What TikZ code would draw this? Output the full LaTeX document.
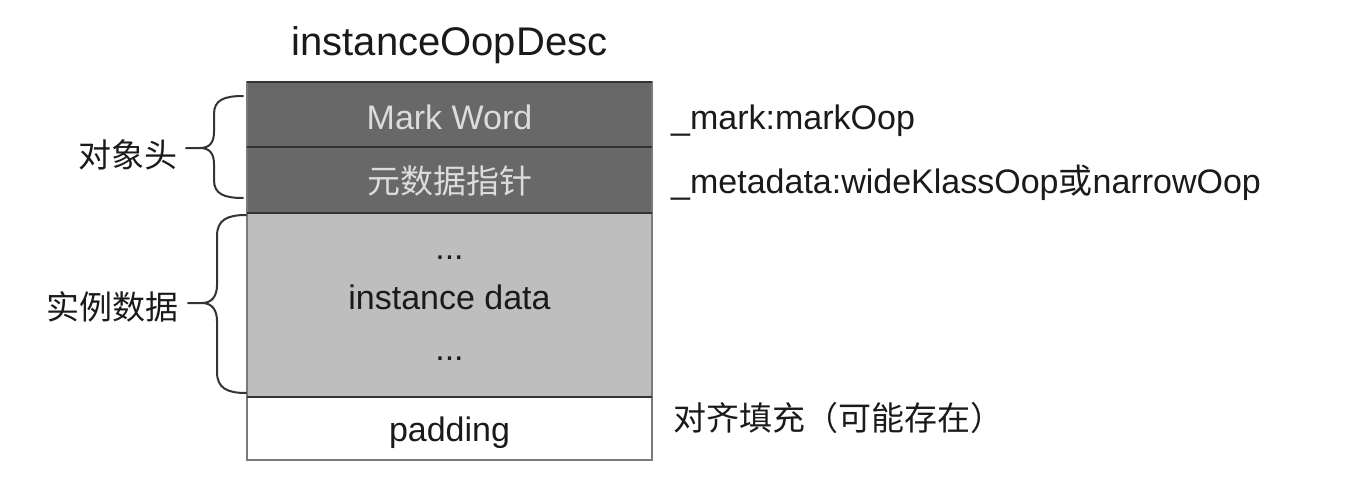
\documentclass[tikz,border=0pt]{standalone}
\usepackage{fontspec}
\setmainfont{Liberation Sans}
\newfontfamily\cjk{Noto Sans CJK SC}
\definecolor{hdr}{HTML}{686868}
\definecolor{hdrtext}{HTML}{DCDCDC}
\definecolor{inst}{HTML}{BEBEBE}
\definecolor{edge}{HTML}{333333}
\definecolor{outline}{HTML}{7A7A7A}
\definecolor{ink}{HTML}{1A1A1A}
\begin{document}
\begin{tikzpicture}[x=1pt,y=-1pt,
  rowbox/.style={draw=outline, line width=2pt, minimum width=405pt, inner sep=0pt, outer sep=0pt},
  divider/.style={draw=edge, line width=2.5pt},
  lat/.style={font=\fontsize{34}{40}\selectfont, inner sep=0pt, text=ink},
  han/.style={font=\cjk\fontsize{33}{40}\selectfont, inner sep=0pt, text=ink},
  bracepath/.style={draw=edge, line width=2pt, line cap=round, line join=round}]
\useasboundingbox (0,0) rectangle (1349,490);
% rows
\node[rowbox, fill=hdr, minimum height=65pt] (mark) at (449.5,114.5) {};
\node[rowbox, fill=hdr, minimum height=66pt] (meta) at (449.5,180) {};
\node[rowbox, fill=inst, minimum height=184pt] (inst) at (449.5,305) {};
\node[rowbox, fill=white, minimum height=63pt] (pad) at (449.5,428.5) {};
% dividers
\draw[divider] (mark.north west) -- (mark.north east);
\draw[divider] (mark.south west) -- (mark.south east);
\draw[divider] (meta.south west) -- (meta.south east);
\draw[divider] (inst.south west) -- (inst.south east);
% title
\node[lat, font=\fontsize{40}{46}\selectfont, anchor=base] (title) at (449.5,55) {instanceOopDesc};
% row texts
\node[lat, text=hdrtext] (marktxt) at (449.5,117) {Mark Word};
\node[han, text=hdrtext] (metatxt) at (449.5,181) {元数据指针};
\node[lat, anchor=base] (dotsa) at (449.5,259) {...};
\node[lat] (insttxt) at (449.5,297) {instance data};
\node[lat, anchor=base] (dotsb) at (449.5,360) {...};
\node[lat, anchor=base] (padtxt) at (449.5,441) {padding};
% right labels
\node[lat, anchor=base west] (markr) at (671,129) {\_mark:markOop};
\node[lat, anchor=base west] (metar) at (671,193) {\_metadata:wideKlassOop{\cjk 或}narrowOop};
\node[han, anchor=west] (padr) at (673,418) {对齐填充（可能存在）};
% left labels
\node[han, anchor=east] (hdrlbl) at (178,155) {对象头};
\node[han, anchor=east] (instlbl) at (179,307) {实例数据};
% braces
\coordinate (b1top) at (243,96);
\coordinate (b1bot) at (243,198);
\coordinate (b1tip) at (186,148);
\draw[bracepath] (b1top) .. controls (224,96) and (214,100) .. (214,114) -- (214,132)
  .. controls (214,142) and (210,148) .. (200,148) -- (b1tip);
\draw[bracepath] (b1bot) .. controls (224,198) and (214,194) .. (214,180) -- (214,164)
  .. controls (214,154) and (210,148) .. (200,148);
\coordinate (b2top) at (246,215);
\coordinate (b2bot) at (246,393);
\coordinate (b2tip) at (188,303);
\draw[bracepath] (b2top) .. controls (227,215) and (217,220) .. (217,236) -- (217,285)
  .. controls (217,296) and (212,303) .. (202,303) -- (b2tip);
\draw[bracepath] (b2bot) .. controls (227,393) and (217,388) .. (217,372) -- (217,321)
  .. controls (217,310) and (212,303) .. (202,303);
\end{tikzpicture}
\end{document}
